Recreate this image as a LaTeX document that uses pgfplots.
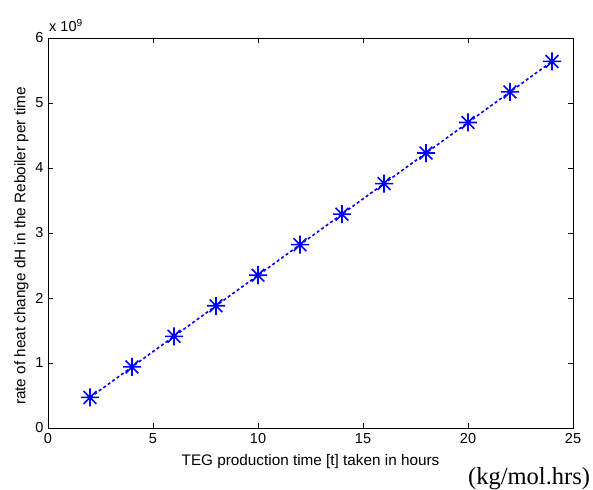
\documentclass[border=0pt]{standalone}
\usepackage{fontspec}
\setmainfont{Liberation Sans}
\newfontfamily\timesfont{Liberation Serif}
\usepackage{pgfplots}
\pgfplotsset{compat=1.18}

% MATLAB-like 8-arm asterisk
\pgfdeclareplotmark{mstar}{%
  \pgfpathmoveto{\pgfqpoint{-\pgfplotmarksize}{0pt}}%
  \pgfpathlineto{\pgfqpoint{\pgfplotmarksize}{0pt}}%
  \pgfpathmoveto{\pgfqpoint{0pt}{-\pgfplotmarksize}}%
  \pgfpathlineto{\pgfqpoint{0pt}{\pgfplotmarksize}}%
  \pgfpathmoveto{\pgfqpoint{-0.707\pgfplotmarksize}{-0.707\pgfplotmarksize}}%
  \pgfpathlineto{\pgfqpoint{0.707\pgfplotmarksize}{0.707\pgfplotmarksize}}%
  \pgfpathmoveto{\pgfqpoint{-0.707\pgfplotmarksize}{0.707\pgfplotmarksize}}%
  \pgfpathlineto{\pgfqpoint{0.707\pgfplotmarksize}{-0.707\pgfplotmarksize}}%
  \pgfusepathqstroke}

\begin{document}
\begin{tikzpicture}
\useasboundingbox (-48pt,-61pt) rectangle (545pt,428pt);
\begin{axis}[
    scale only axis,
    width=525pt, height=390pt,
    xmin=0, xmax=25, ymin=0, ymax=6,
    xtick={0,5,...,25}, ytick={0,1,...,6},
    tick align=inside,
    major tick length=5pt,
    axis line style={line width=0.8pt},
    every tick/.style={black, line width=0.6pt},
    /pgf/number format/assume math mode=true,
    tick label style={font=\fontsize{14.5}{14.5}\selectfont},
    xticklabel style={yshift=-2pt},
    yticklabel style={xshift=-1pt},
    xlabel={TEG production time [t] taken in hours},
    ylabel={rate of heat change dH in the Reboiler per time},
    label style={font=\fontsize{15.3}{15.3}\selectfont},
    xlabel style={at={(rel axis cs:0.5,0)}, anchor=north, yshift=-23pt},
    ylabel style={at={(ticklabel cs:0.467)}, anchor=south, yshift=0pt},
]
\addplot[blue, line width=1.6pt, dash pattern=on 3pt off 2.5pt,
    mark=mstar, mark size=9pt, mark options={solid, line width=1.6pt}]
  coordinates {
    (2,0.47) (4,0.94) (6,1.41) (8,1.88) (10,2.35) (12,2.82)
    (14,3.29) (16,3.76) (18,4.23) (20,4.70) (22,5.17) (24,5.64)
  };
\end{axis}
\node[anchor=base west, inner sep=0pt, font=\fontsize{14.5}{14.5}\selectfont] at (1pt,396pt) {x 10$^{\mathrm{9}}$};
\node[anchor=base west, inner sep=0pt, font=\timesfont\fontsize{24.5}{24.5}\selectfont] at (420pt,-56pt) {(kg/mol.hrs)};
\end{tikzpicture}
\end{document}
